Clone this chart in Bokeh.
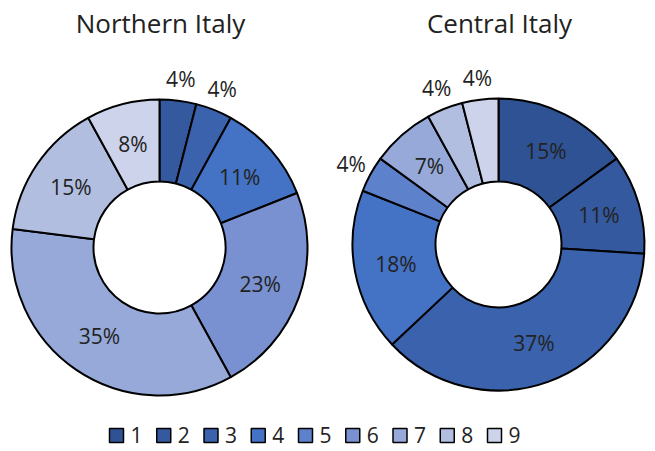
import math
from bokeh.plotting import figure
from bokeh.models import Range1d, ColumnDataSource
from bokeh.core.properties import value
from bokeh.embed import file_html
from bokeh.resources import INLINE

# ---- data ----
categories = ["1", "2", "3", "4", "5", "6", "7", "8", "9"]
palette = ["#2E5293", "#34599F", "#3A62AD", "#4472C4", "#5E81CC",
           "#7991D0", "#96A9D8", "#B1BEE0", "#CCD3EA"]
north_title = "Northern Italy"
north_values = [0, 4, 4, 11, 0, 23, 35, 15, 8]
central_title = "Central Italy"
central_values = [15, 11, 37, 18, 4, 0, 7, 4, 4]

W, H = 655, 451
FONT = "Open Sans"
TXT = "#222222"

p = figure(width=W, height=H, output_backend="svg", toolbar_location=None,
           x_range=Range1d(0, W), y_range=Range1d(0, H), min_border=0)
p.axis.visible = False
p.grid.visible = False
p.outline_line_color = None
p.background_fill_color = "white"


def donut(vals, cx, cy, R, r, title):
    total = float(sum(vals))
    starts, ends, cols, lx, ly, lt = [], [], [], [], [], []
    cum = 0.0
    for v, c in zip(vals, palette):
        if v <= 0:
            continue
        f0 = cum / total
        f1 = (cum + v) / total
        cum += v
        starts.append(math.pi / 2 - 2 * math.pi * f0)
        ends.append(math.pi / 2 - 2 * math.pi * f1)
        cols.append(c)
        m = (f0 + f1) / 2
        a = math.pi / 2 - 2 * math.pi * m
        rad = R + 22 if v <= 4 else (R + r) / 2
        lx.append(cx + rad * math.cos(a))
        ly.append(cy + rad * math.sin(a))
        lt.append(f"{v}%")
    src = ColumnDataSource(dict(s=starts, e=ends, c=cols))
    p.annular_wedge(x=cx, y=cy, inner_radius=r, outer_radius=R,
                    start_angle="s", end_angle="e", direction="clock",
                    fill_color="c", line_color="black", line_width=2,
                    source=src)
    p.text(x=lx, y=ly, text=lt, text_font=value(FONT), text_font_size="21px",
           text_color=TXT, text_align="center", text_baseline="middle")
    p.text(x=[cx + 1], y=[429], text=[title], text_font=value(FONT),
           text_font_size="26px", text_color=TXT, text_align="center",
           text_baseline="middle")


donut(north_values, 159, 204, 148, 66, north_title)
donut(central_values, 498, 207, 146, 63, central_title)

# legend
lx0, step, ly0 = 116, 47.25, 16
sx = [lx0 + i * step for i in range(len(categories))]
p.scatter(x=sx, y=[ly0] * len(sx), marker="square", size=14,
          fill_color=palette, line_color="black", line_width=1.5)
p.text(x=[x + 14 for x in sx], y=[ly0 + 1] * len(sx), text=categories,
       text_font=value(FONT), text_font_size="21px", text_color=TXT,
       text_align="left", text_baseline="middle")

open("out.html", "w").write(file_html(p, INLINE))
